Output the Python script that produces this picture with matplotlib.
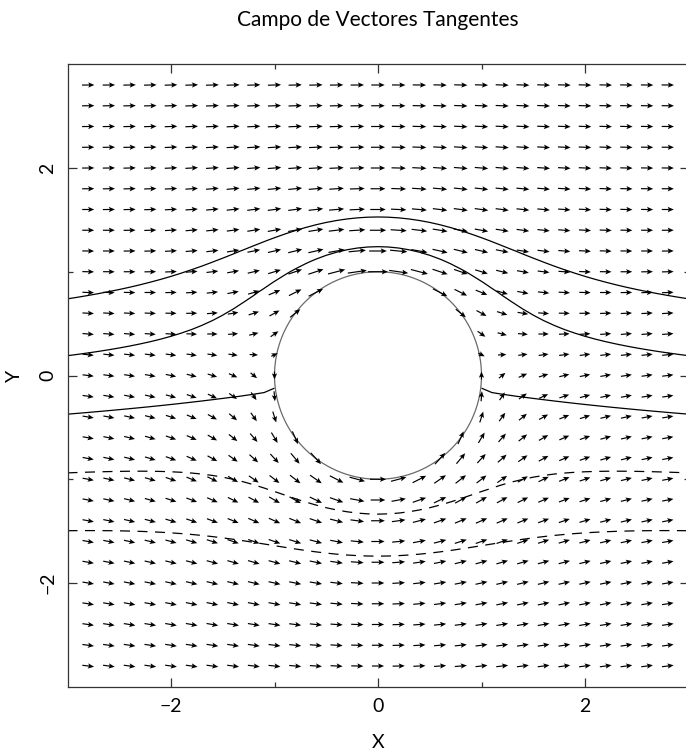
import numpy as np
import matplotlib
matplotlib.use("Agg")
import matplotlib.pyplot as plt

# Flow past a unit cylinder: uniform stream + doublet + circulation term
radius = 1.0
circulation = 0.3
stream_levels = [-1.0, -0.5, 0.0, 0.5, 1.0]
arrow_coords = np.round(np.arange(-2.8, 2.8001, 0.2), 10)
contour_coords = np.round(np.arange(-3.0, 3.0001, 0.1), 10)
tick_major = [-2, 0, 2]
tick_minor = [-1, 1]
title = "Campo de Vectores Tangentes"

font = ["Lato", "DejaVu Sans"]


def stream_function(x, y):
    r2 = x**2 + y**2
    return y * (1.0 - radius**2 / r2) + circulation * 0.5 * np.log(r2)


def tangent_field(x, y):
    r2 = x**2 + y**2
    r4 = r2**2
    u = 1.0 - radius**2 * (x**2 - y**2) / r4 + circulation * y / r2
    v = -2.0 * radius**2 * x * y / r4 + circulation * x / r2
    return u, v


fig = plt.figure(figsize=(6.86, 7.49), dpi=100)
ax = fig.add_axes([67.5 / 686, (749 - 686.75) / 749, 621 / 686, 622.5 / 749])
ax.set_xlim(-3, 3)
ax.set_ylim(-3, 3)

# arrows on the grid, outside the body, centred on each node
gx, gy = np.meshgrid(arrow_coords, arrow_coords)
outside = gx**2 + gy**2 >= radius**2 - 1e-9
px, py = gx[outside], gy[outside]
u, v = tangent_field(px, py)
speed = np.hypot(u, v)
length = 0.058 * (1.0 + speed)
U = u / speed * length
V = v / speed * length
ax.quiver(px, py, U, V, angles="xy", scale_units="xy", scale=1, pivot="middle",
          width=0.0019, headwidth=4.5, headlength=5.2, headaxislength=4.3,
          color="black", zorder=3)

# streamlines as level curves of the stream function
CX, CY = np.meshgrid(contour_coords, contour_coords)
with np.errstate(divide="ignore", invalid="ignore"):
    psi = stream_function(CX, CY)
psi = np.ma.masked_where(CX**2 + CY**2 < radius**2, psi)
styles = [(0, (8, 6)) if lv < 0 else "solid" for lv in stream_levels]
ax.contour(CX, CY, psi, levels=stream_levels, colors="black",
           linewidths=0.9, linestyles=styles, zorder=2)

# body outline
t = np.linspace(0, 2 * np.pi, 400)
ax.plot(radius * np.cos(t), radius * np.sin(t), color="#6a6a6a", lw=0.9, zorder=2)

for s in ax.spines.values():
    s.set_linewidth(0.9)
    s.set_color("#333333")

ax.set_xticks(tick_major)
ax.set_yticks(tick_major)
ax.set_xticks(tick_minor, minor=True)
ax.set_yticks(tick_minor, minor=True)
ax.tick_params(which="both", direction="in", top=True, right=True,
               color="#333333", width=0.9)
ax.tick_params(which="major", length=6.5, labelsize=14, pad=8)
ax.tick_params(which="minor", length=3.6)
for lbl in ax.get_xticklabels() + ax.get_yticklabels():
    lbl.set_family(font)
for lbl in ax.get_yticklabels():
    lbl.set_rotation(90)
    lbl.set_va("center")

fig.text(378 / 686, 1 - 20 / 749, title, ha="center", va="center",
         fontsize=15, family=font)
fig.text(378 / 686, 1 - 742 / 749, "X", ha="center", va="center",
         fontsize=14, family=font)
fig.text(15 / 686, 1 - 376 / 749, "Y", ha="center", va="center", rotation=90,
         fontsize=14, family=font)

fig.savefig("out.png", dpi=100)
